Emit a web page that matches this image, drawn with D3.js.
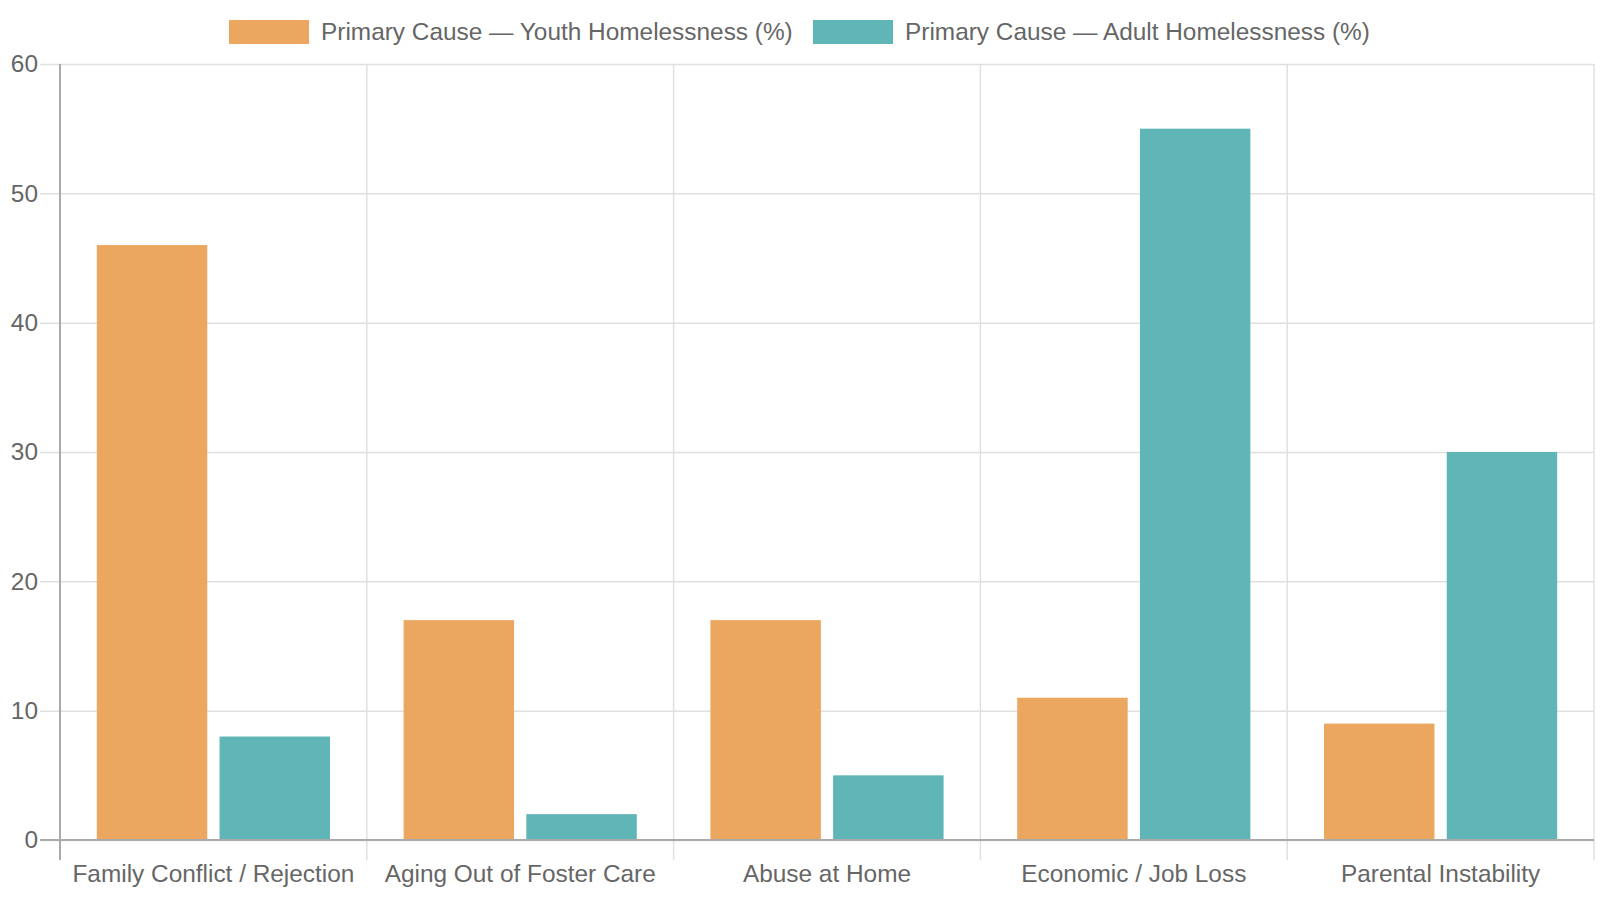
<!DOCTYPE html>
<html><head><meta charset="utf-8">
<script src="https://cdn.jsdelivr.net/npm/d3@7"></script>
<style>html,body{margin:0;padding:0;background:#fff;}svg{display:block;font-family:"Liberation Sans",Arial,sans-serif;}</style>
</head><body><svg id="c" width="1600" height="900"></svg>
<script>
const categories = ["Family Conflict / Rejection","Aging Out of Foster Care","Abuse at Home","Economic / Job Loss","Parental Instability"];
const seriesNames = ["Primary Cause \u2014 Youth Homelessness (%)","Primary Cause \u2014 Adult Homelessness (%)"];
const youthValues = [46, 17, 17, 11, 9];
const adultValues = [8, 2, 5, 55, 30];
const yTicks = [0, 10, 20, 30, 40, 50, 60];
const colors = ["#EBA65F", "#60B5B7"];

const svg = d3.select("#c");
const m = {left: 60, right: 1594, top: 64, bottom: 840};
const fs = 24.4;
const x = d3.scaleBand().domain(categories).range([m.left, m.right]);
const inner = d3.scaleBand().domain([0,1]).range([0, x.bandwidth()*0.8]).paddingInner(0.1).paddingOuter(0.05);
const y = d3.scaleLinear().domain([0, 60]).range([m.bottom, m.top]);
const textColor = "#666";
const gridColor = "#e0e0e0";
const axisColor = "#aaa";

// horizontal grid
const yAxis = d3.axisLeft(y).tickValues(yTicks).tickSize(-(m.right - m.left)).tickPadding(22);
const gy = svg.append("g").attr("transform", `translate(${m.left},0)`).call(yAxis);
gy.select(".domain").remove();
gy.selectAll(".tick line").attr("stroke", gridColor).attr("stroke-width", 1.5).attr("x1", -20);
gy.selectAll(".tick text").attr("fill", textColor).attr("font-size", fs).attr("dx", 0);

// vertical grid at category boundaries
const bounds = categories.map(c => x(c)).concat([m.right]);
svg.append("g").selectAll("line").data(bounds).join("line")
  .attr("x1", d => d).attr("x2", d => d)
  .attr("y1", m.top).attr("y2", m.bottom + 20)
  .attr("stroke", gridColor).attr("stroke-width", 1.5);

// bars
const series = [youthValues, adultValues];
series.forEach((vals, si) => {
  svg.append("g").selectAll("rect").data(vals).join("rect")
    .attr("x", (d, i) => x(categories[i]) + x.bandwidth()*0.1 + inner(si))
    .attr("width", inner.bandwidth())
    .attr("y", d => y(d))
    .attr("height", d => y(0) - y(d))
    .attr("fill", colors[si]);
});

// axes lines
svg.append("line").attr("x1", m.left).attr("x2", m.left).attr("y1", m.top).attr("y2", m.bottom + 20)
  .attr("stroke", axisColor).attr("stroke-width", 2);
svg.append("line").attr("x1", m.left - 20).attr("x2", m.right).attr("y1", y(0)).attr("y2", y(0))
  .attr("stroke", axisColor).attr("stroke-width", 2);

// x labels
const xAxis = d3.axisBottom(x).tickSize(0).tickPadding(0);
const gx = svg.append("g").attr("transform", `translate(0,${m.bottom})`).call(xAxis);
gx.select(".domain").remove();
gx.selectAll(".tick text").attr("fill", textColor).attr("font-size", fs).attr("dy", 0).attr("y", 42);

// legend
const legendItems = [{x: 229, text: seriesNames[0], c: colors[0]}, {x: 813, text: seriesNames[1], c: colors[1]}];
const lg = svg.append("g");
legendItems.forEach(it => {
  lg.append("rect").attr("x", it.x).attr("y", 20).attr("width", 80).attr("height", 24).attr("fill", it.c);
  lg.append("text").attr("x", it.x + 92).attr("y", 40).attr("fill", textColor).attr("font-size", fs).text(it.text);
});
</script></body></html>
